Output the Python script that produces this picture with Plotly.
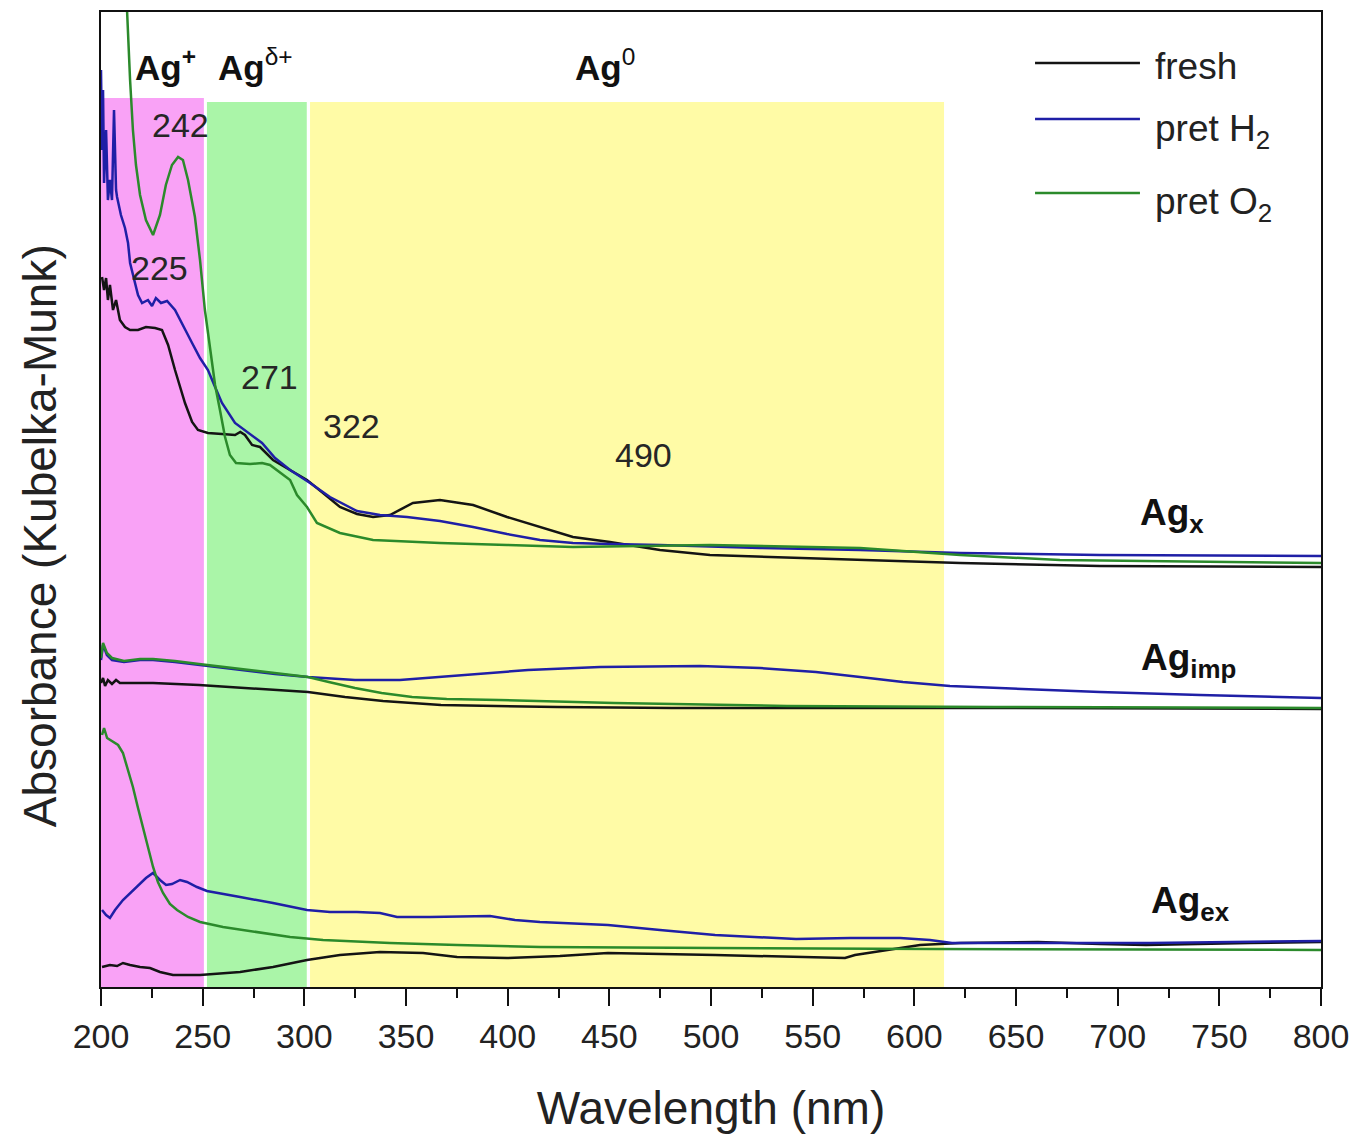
import plotly.graph_objects as go

# ---------------- data (wavelength in nm, absorbance in arbitrary K-M units) ----------------
# Ag_x sample
agx_fresh_wl = [200.5, 201.5, 202.5, 203.4, 204.4, 205.9, 207.4, 209.3, 211.8, 214.3,
                218.2, 222.1, 226.6, 230.0, 233.0, 236.4, 241.3, 244.8, 247.7, 252.6,
                259.5, 265.9, 268.5, 270.8, 274.3, 278.2, 284.6, 293.0, 301.3, 309.2,
                317.5, 325.9, 333.8, 342.1, 347.0, 353.4, 366.7, 383.0, 399.7, 415.9,
                432.1, 450.3, 474.9, 499.5, 573.3, 622.5, 691.3, 800.0]
agx_fresh_ab = [7.10, 6.97, 7.09, 6.87, 7.02, 6.77, 6.87, 6.67, 6.60, 6.57,
                6.57, 6.60, 6.59, 6.57, 6.42, 6.17, 5.84, 5.65, 5.57, 5.54,
                5.53, 5.52, 5.55, 5.52, 5.42, 5.40, 5.27, 5.17, 5.07, 4.94,
                4.80, 4.73, 4.70, 4.72, 4.77, 4.84, 4.87, 4.82, 4.70, 4.60,
                4.50, 4.45, 4.37, 4.32, 4.27, 4.24, 4.21, 4.20]

agx_h2_wl = [200.0, 200.5, 201.0, 201.5, 202.5, 203.4, 204.4, 205.4, 206.4, 207.4,
             207.9, 209.8, 211.8, 213.3, 214.3, 216.2, 218.2, 220.2, 223.1, 225.1,
             227.0, 229.5, 232.5, 236.4, 240.8, 244.8, 248.7, 252.6, 256.1, 259.5,
             265.9, 272.3, 279.2, 285.6, 293.0, 302.8, 312.6, 325.9, 337.2, 350.5,
             366.7, 383.0, 399.7, 415.9, 432.1, 450.3, 474.9, 524.1, 573.3, 622.5,
             691.3, 800.0]
agx_h2_ab = [9.17, 8.37, 8.97, 8.04, 8.57, 7.87, 8.07, 7.87, 8.77, 7.97,
             7.90, 7.72, 7.59, 7.44, 7.24, 7.07, 6.92, 6.84, 6.87, 6.81,
             6.89, 6.84, 6.86, 6.77, 6.59, 6.44, 6.29, 6.17, 6.00, 5.84,
             5.64, 5.54, 5.44, 5.29, 5.17, 5.04, 4.90, 4.76, 4.72, 4.70,
             4.66, 4.60, 4.53, 4.47, 4.44, 4.43, 4.42, 4.39, 4.37, 4.34,
             4.32, 4.31]

agx_o2_wl = [210.3, 212.8, 214.3, 215.7, 217.2, 219.2, 222.1, 225.6, 229.0, 231.9,
             234.9, 237.9, 240.3, 242.8, 246.2, 248.7, 251.1, 253.6, 256.1, 258.5,
             261.0, 263.4, 266.4, 273.3, 279.2, 283.1, 289.0, 293.0, 296.4, 301.3,
             306.2, 312.6, 317.5, 333.8, 366.7, 399.7, 432.1, 465.1, 499.5, 573.3,
             622.5, 671.6, 800.0]
agx_o2_ab = [12.87, 9.77, 9.07, 8.57, 8.22, 7.92, 7.67, 7.52, 7.72, 8.02,
             8.22, 8.30, 8.27, 8.07, 7.70, 7.27, 6.77, 6.42, 6.02, 5.77,
             5.50, 5.32, 5.24, 5.23, 5.24, 5.22, 5.13, 5.07, 4.92, 4.80,
             4.64, 4.58, 4.54, 4.47, 4.44, 4.42, 4.40, 4.41, 4.42, 4.39,
             4.32, 4.27, 4.24]

# Ag_imp sample
agimp_fresh_wl = [200.0, 201.0, 202.0, 203.4, 205.4, 207.4, 209.3, 225.6, 248.2, 273.3,
                  301.8, 320.0, 338.7, 367.2, 424.3, 480.8, 642.1, 800.0]
agimp_fresh_ab = [3.04, 3.09, 3.01, 3.07, 3.03, 3.07, 3.04, 3.04, 3.02, 2.99,
                  2.95, 2.90, 2.86, 2.82, 2.80, 2.79, 2.79, 2.78]

agimp_h2_wl = [200.0, 201.0, 202.0, 202.9, 205.4, 211.3, 219.2, 225.6, 236.4, 248.2,
               267.9, 285.6, 301.8, 324.9, 347.0, 367.2, 391.3, 410.0, 445.4, 480.8,
               494.6, 524.1, 551.6, 573.3, 594.4, 617.5, 642.1, 691.3, 740.5, 800.0]
agimp_h2_ab = [3.27, 3.42, 3.37, 3.32, 3.27, 3.25, 3.27, 3.27, 3.25, 3.22,
               3.17, 3.13, 3.10, 3.07, 3.07, 3.10, 3.14, 3.17, 3.20, 3.21,
               3.21, 3.19, 3.15, 3.10, 3.05, 3.01, 2.99, 2.95, 2.92, 2.89]

agimp_o2_wl = [200.0, 201.0, 202.9, 205.4, 211.3, 219.2, 225.6, 236.4, 248.2, 267.9,
               285.6, 301.8, 312.0, 324.9, 338.0, 353.0, 370.0, 395.7, 452.3, 537.4,
               639.7, 800.0]
agimp_o2_ab = [3.29, 3.44, 3.34, 3.29, 3.26, 3.28, 3.28, 3.26, 3.23, 3.18,
               3.14, 3.10, 3.05, 2.99, 2.94, 2.90, 2.88, 2.87, 2.84, 2.81,
               2.80, 2.79]

# Ag_ex sample
agex_fresh_wl = [200.5, 204.4, 207.9, 210.8, 214.3, 219.2, 224.1, 229.0, 235.4, 248.7,
                 268.4, 284.6, 301.3, 317.5, 337.2, 358.4, 375.1, 399.7, 425.7, 449.3,
                 502.0, 543.8, 565.9, 570.8, 583.1, 602.8, 622.5, 660.8, 691.3, 713.9,
                 765.1, 800.0]
agex_fresh_ab = [0.20, 0.22, 0.21, 0.24, 0.22, 0.20, 0.19, 0.15, 0.12, 0.12,
                 0.15, 0.20, 0.27, 0.32, 0.35, 0.34, 0.30, 0.29, 0.31, 0.34,
                 0.32, 0.30, 0.29, 0.32, 0.36, 0.42, 0.44, 0.45, 0.43, 0.42,
                 0.44, 0.45]

agex_h2_wl = [200.5, 202.5, 204.4, 206.9, 210.8, 214.3, 216.7, 219.2, 222.1, 225.6,
              229.0, 232.0, 234.9, 238.9, 242.3, 247.2, 252.1, 268.4, 284.6, 301.3,
              312.6, 325.9, 337.2, 345.6, 361.8, 391.3, 403.6, 415.9, 449.3, 474.9,
              502.0, 541.8, 568.4, 593.0, 607.7, 618.5, 660.8, 715.9, 800.0]
agex_h2_ab = [0.77, 0.72, 0.69, 0.77, 0.87, 0.94, 0.99, 1.03, 1.09, 1.14,
              1.07, 1.02, 1.03, 1.07, 1.05, 1.00, 0.96, 0.90, 0.84, 0.77,
              0.75, 0.75, 0.74, 0.70, 0.70, 0.71, 0.67, 0.65, 0.62, 0.57,
              0.52, 0.48, 0.49, 0.49, 0.47, 0.44, 0.44, 0.44, 0.46]

agex_o2_wl = [200.5, 201.5, 203.0, 205.4, 208.4, 210.8, 213.3, 215.7, 218.2, 220.7,
              223.1, 225.6, 228.0, 230.5, 233.9, 237.4, 242.8, 248.7, 260.0, 276.7,
              293.0, 309.2, 342.1, 375.1, 415.9, 502.0, 608.2, 800.0]
agex_o2_ab = [2.52, 2.59, 2.49, 2.46, 2.42, 2.34, 2.17, 2.00, 1.79, 1.60,
              1.39, 1.20, 1.05, 0.94, 0.83, 0.77, 0.70, 0.65, 0.60, 0.55,
              0.50, 0.47, 0.44, 0.42, 0.40, 0.39, 0.38, 0.37]

# shaded oxidation-state regions (nm)
region_names = ["Ag+", "Agd+", "Ag0"]
region_start = [200.0, 252.1, 302.8]
region_end = [250.6, 301.2, 614.6]

# peak labels
peak_labels = ["242", "225", "271", "322", "490"]
peak_x = [239.3, 229.0, 283.1, 323.4, 466.6]
peak_y = [8.62, 7.19, 6.10, 5.61, 5.32]

# ---------------- style ----------------
FONT = "Liberation Sans, Arial, Helvetica, sans-serif"
C_FRESH = "#141414"
C_H2 = "#1f1fa6"
C_O2 = "#2b8a2b"
region_colors = ["#F9A2F6", "#AAF5A8", "#FFFBA6"]
region_tops = [8.89, 8.85, 8.85]
Y_MAX = 9.75

fig = go.Figure()

series = [
    (agx_fresh_wl, agx_fresh_ab, C_FRESH), (agx_h2_wl, agx_h2_ab, C_H2), (agx_o2_wl, agx_o2_ab, C_O2),
    (agimp_fresh_wl, agimp_fresh_ab, C_FRESH), (agimp_h2_wl, agimp_h2_ab, C_H2), (agimp_o2_wl, agimp_o2_ab, C_O2),
    (agex_fresh_wl, agex_fresh_ab, C_FRESH), (agex_h2_wl, agex_h2_ab, C_H2), (agex_o2_wl, agex_o2_ab, C_O2),
]
for wl, ab, col in series:
    fig.add_trace(go.Scatter(x=wl, y=ab, mode="lines", line=dict(color=col, width=2.5),
                             showlegend=False, hoverinfo="skip"))

shapes = []
for x0, x1, col, top in zip(region_start, region_end, region_colors, region_tops):
    shapes.append(dict(type="rect", xref="x", yref="y", x0=x0, x1=x1, y0=0, y1=top,
                       fillcolor=col, line=dict(width=0), layer="below"))

# manual legend (long line samples like the original)
legend_items = [("fresh", C_FRESH, 0.9477, 0.9436),
                ("pret H<sub>2</sub>", C_H2, 0.8903, 0.8780),
                ("pret O<sub>2</sub>", C_O2, 0.8144, 0.8030)]
annotations = []
for name, col, ly, ty in legend_items:
    shapes.append(dict(type="line", xref="paper", yref="paper", x0=0.7656, x1=0.8516,
                       y0=ly, y1=ly, line=dict(color=col, width=2.5)))
    annotations.append(dict(text=name, xref="paper", yref="paper", x=0.8623, y=ty,
                            xanchor="left", yanchor="middle", showarrow=False,
                            font=dict(family=FONT, size=37, color="#222222")))

for t, x, y in zip(peak_labels, peak_x, peak_y):
    annotations.append(dict(text=t, x=x, y=y, xref="x", yref="y", showarrow=False,
                            xanchor="center", yanchor="middle",
                            font=dict(family=FONT, size=34, color="#262626")))

state_labels = [("<b>Ag<sup>+</sup></b>", 231.5, 9.22),
                ("<b>Ag</b><sup>δ+</sup>", 276.0, 9.22),
                ("<b>Ag</b><sup>0</sup>", 448.0, 9.22)]
for t, x, y in state_labels:
    annotations.append(dict(text=t, x=x, y=y, xref="x", yref="y", showarrow=False,
                            xanchor="center", yanchor="middle",
                            font=dict(family=FONT, size=35, color="#111111")))

sample_labels = [("<b>Ag<sub>x</sub></b>", 726.7, 4.72),
                 ("<b>Ag<sub>imp</sub></b>", 734.6, 3.27),
                 ("<b>Ag<sub>ex</sub></b>", 735.6, 0.84)]
for t, x, y in sample_labels:
    annotations.append(dict(text=t, x=x, y=y, xref="x", yref="y", showarrow=False,
                            xanchor="center", yanchor="middle",
                            font=dict(family=FONT, size=37, color="#111111")))

# y-axis title (placed slightly below centre, as in the original)
annotations.append(dict(text="Absorbance (Kubelka-Munk)", xref="paper", yref="paper",
                        x=-0.0498, y=0.4626, xanchor="center", yanchor="middle",
                        textangle=-90, showarrow=False,
                        font=dict(family=FONT, size=46, color="#222222")))

# page body has an 8px margin; the figure is sized so the plot box lands where the original's is
fig.update_layout(
    width=1351, height=1130,
    margin=dict(l=93, r=38, t=4, b=151, autoexpand=False),
    paper_bgcolor="white", plot_bgcolor="white",
    font=dict(family=FONT, color="#222222"),
    shapes=shapes, annotations=annotations,
    showlegend=False,
    xaxis=dict(range=[200, 800], tickmode="array",
               tickvals=list(range(200, 801, 50)),
               ticks="outside", ticklen=17, tickwidth=2, tickcolor="#111111",
               minor=dict(ticks="outside", ticklen=9, tickwidth=2, tickcolor="#111111", dtick=25,
                          showgrid=False),
               showline=True, linecolor="#111111", linewidth=2, mirror=True,
               showgrid=False, zeroline=False,
               tickfont=dict(family=FONT, size=34, color="#222222"),
               ticklabelstandoff=1,
               title=dict(text="Wavelength (nm)", standoff=38,
                          font=dict(family=FONT, size=46, color="#222222"))),
    yaxis=dict(range=[0, Y_MAX], showticklabels=False, ticks="",
               showline=True, linecolor="#111111", linewidth=2, mirror=True,
               showgrid=False, zeroline=False),
)

fig.write_html("out.html")
